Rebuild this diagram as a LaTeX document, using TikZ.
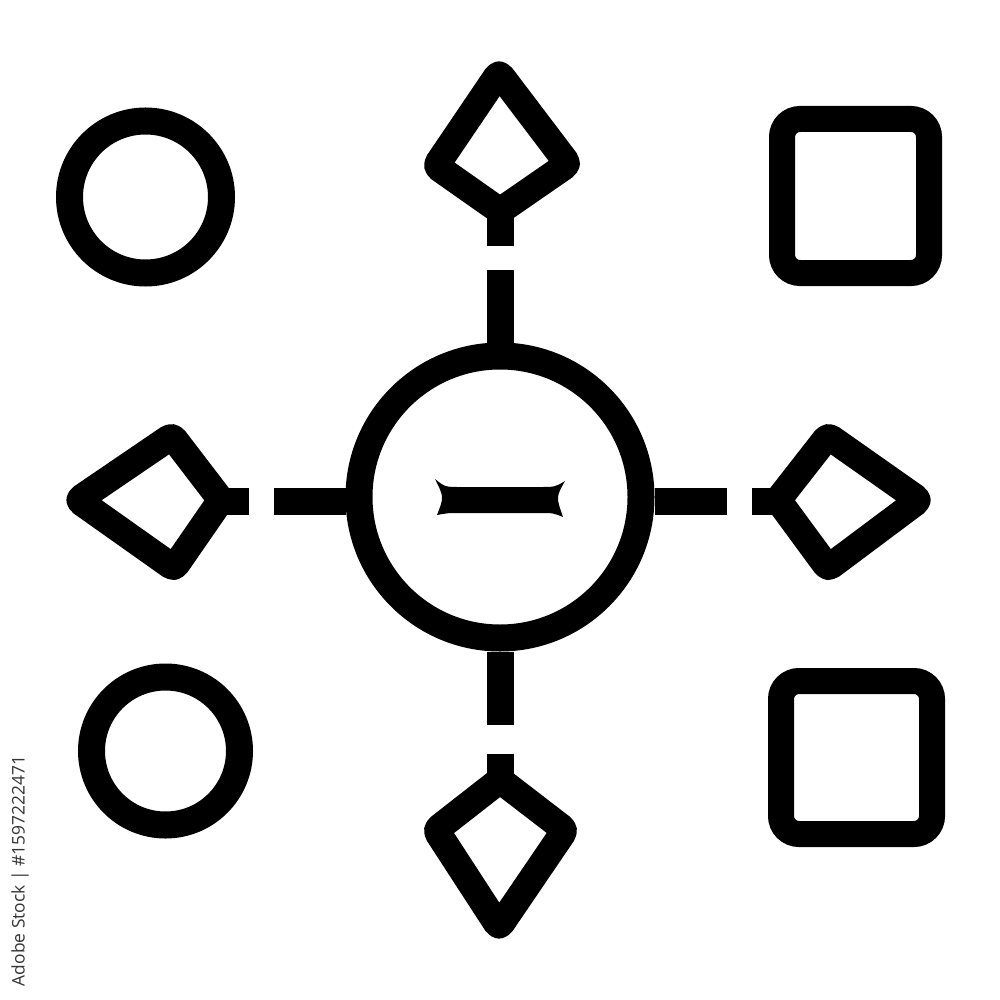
\documentclass[tikz,border=0pt]{standalone}
\usepackage{fontspec}
\newfontfamily\marcafont{Open Sans}
\usetikzlibrary{positioning}

\begin{document}
\begin{tikzpicture}[x=1pt,y=-1pt,
    tratto/.style={line width=27pt},
    anello/.style={draw, circle, line width=27pt, inner sep=0pt},
    quadro/.style={draw, rectangle, rounded corners=18pt, line width=26pt, inner sep=0pt},
    rombo/.style={line width=27pt, line join=round, rounded corners=4pt}]
  \useasboundingbox (0,0) rectangle (1000,1000);

  % Nodo centrale
  \node[anello, minimum size=282pt] (hub) at (500,497) {};
  \fill (435,479) .. controls (445,487) .. (460,487) -- (540,487)
    .. controls (555,487) .. (565,481) .. controls (556,497) .. (563,517)
    .. controls (553,513) .. (540,513) -- (460,513)
    .. controls (448,513) .. (437,515) .. controls (444,497) .. (435,479) -- cycle;

  % Forme agli angoli
  \node[anello, minimum size=152pt] (cerchioA) at (145.5,197) {};
  \node[anello, minimum size=148pt] (cerchioB) at (165.5,751) {};
  \node[quadro, minimum width=147pt, minimum height=154pt] (quadroA) at (855.5,196) {};
  \node[quadro, minimum width=151pt, minimum height=153pt] (quadroB) at (856.5,757.5) {};

  % Rombi
  \coordinate (su-t) at (499,73);
  \coordinate (su-l) at (436,166);
  \coordinate (su-b) at (500,211);
  \coordinate (su-r) at (568,164);
  \coordinate (giu-t) at (500,780);
  \coordinate (giu-l) at (436,830);
  \coordinate (giu-b) at (499,927);
  \coordinate (giu-r) at (565,830);
  \coordinate (sx-l) at (78,500);
  \coordinate (sx-t) at (172,436);
  \coordinate (sx-r) at (221,500);
  \coordinate (sx-b) at (174,568);
  \coordinate (dx-l) at (778,500);
  \coordinate (dx-t) at (828,436);
  \coordinate (dx-r) at (919,500);
  \coordinate (dx-b) at (828,568);
  \draw[rombo] (su-t) -- (su-l) -- (su-b) -- (su-r) -- cycle;
  \draw[rombo] (giu-t) -- (giu-l) -- (giu-b) -- (giu-r) -- cycle;
  \draw[rombo] (sx-l) -- (sx-t) -- (sx-r) -- (sx-b) -- cycle;
  \draw[rombo] (dx-l) -- (dx-t) -- (dx-r) -- (dx-b) -- cycle;

  % Collegamenti
  \coordinate (su-a) at (500,270);
  \coordinate (su-s) at (500,246);
  \coordinate (giu-a) at (500,725);
  \coordinate (giu-s) at (500,754);
  \coordinate (sx-a) at (274,501);
  \coordinate (sx-s) at (249,501);
  \coordinate (dx-a) at (727,501);
  \coordinate (dx-s) at (752,501);
  \draw[tratto] (hub.north) -- (su-a);
  \draw[tratto] (su-s) -- (su-b);
  \draw[tratto] (hub.south) -- (giu-a);
  \draw[tratto] (giu-s) -- (giu-t);
  \draw[tratto] (hub.west |- sx-a) -- (sx-a);
  \draw[tratto] (sx-s) -- (sx-r |- sx-s);
  \draw[tratto] (hub.east |- dx-a) -- (dx-a);
  \draw[tratto] (dx-s) -- (dx-l |- dx-s);

  % Marchio
  \node[rotate=90, text=black!80, font=\marcafont\fontsize{17.4}{17.4}\selectfont] (marca) at (20,871) {Adobe Stock | \#1597222471};
\end{tikzpicture}
\end{document}
